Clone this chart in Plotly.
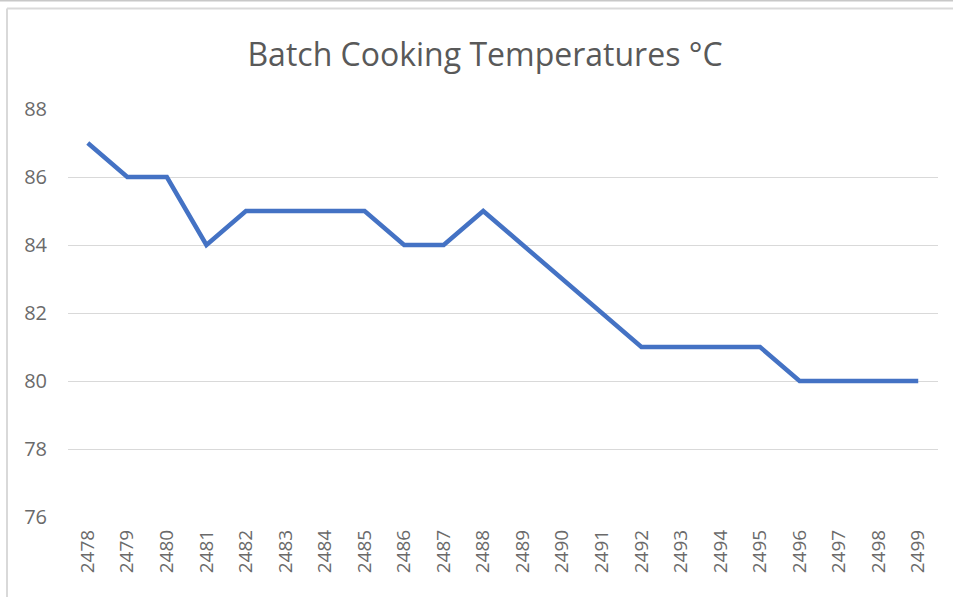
import plotly.graph_objects as go

batches = [str(b) for b in range(2478, 2500)]
temps = [87, 86, 86, 84, 85, 85, 85, 85, 84, 84, 85, 84, 83, 82, 81, 81, 81, 81, 80, 80, 80, 80]
y_ticks = [76, 78, 80, 82, 84, 86, 88]

W, H = 953, 597
L, R, T, B = 68, 15, 109, 80
PW, PH = W - L - R, H - T - B

def px(x):
    return (x - L) / PW

def py(y):
    return (H - B - y) / PH

fig = go.Figure()
fig.add_trace(go.Scatter(
    x=batches, y=temps, mode="lines",
    line=dict(color="#4472C4", width=4.5),
    hoverinfo="x+y", showlegend=False,
))

fig.update_layout(
    width=W, height=H,
    margin=dict(l=L, r=R, t=T, b=B, pad=0),
    paper_bgcolor="white", plot_bgcolor="white",
    font=dict(family="Open Sans", color="#595959", size=20),
    title=dict(text="Batch Cooking Temperatures °C", x=485 / W, xanchor="center",
               y=1 - 55 / H, yanchor="middle",
               font=dict(family="Open Sans", size=32, color="#595959")),
    xaxis=dict(type="category", range=[-0.5, len(batches) - 0.5], tickangle=-90,
               showgrid=False, zeroline=False, showline=False, ticks="",
               ticklabelstandoff=8, tickfont=dict(size=19, color="#6a6a6a")),
    yaxis=dict(range=[76, 88], tickvals=y_ticks, showgrid=True, gridcolor="#D9D9D9",
               gridwidth=1, zeroline=False, showline=False, ticks="",
               ticklabelstandoff=20, tickfont=dict(size=20, color="#6a6a6a")),
    shapes=[
        dict(type="line", xref="paper", yref="paper", x0=px(0), x1=px(W), y0=py(0.5), y1=py(0.5),
             line=dict(color="#C8C8C8", width=2)),
        dict(type="line", xref="paper", yref="paper", x0=px(7), x1=px(W), y0=py(8.5), y1=py(8.5),
             line=dict(color="#D9D9D9", width=2)),
        dict(type="line", xref="paper", yref="paper", x0=px(7), x1=px(7), y0=py(8.5), y1=py(H),
             line=dict(color="#D9D9D9", width=2)),
    ],
)

fig.write_html("out.html", config={"displayModeBar": False},
               post_script="document.body.style.margin='0';document.body.style.overflow='hidden';")
